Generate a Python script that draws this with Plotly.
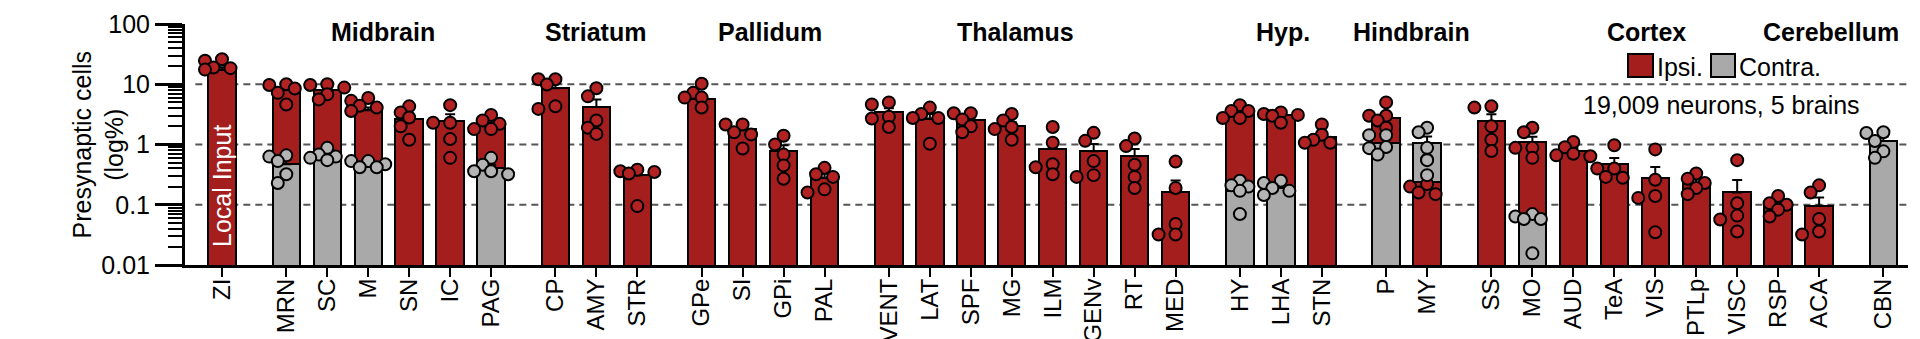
import numpy as np
import plotly.graph_objects as go

# ---------------- data ----------------
regions = ["ZI", "MRN", "SC", "M", "SN", "IC", "PAG", "CP", "AMY", "STR",
           "GPe", "SI", "GPi", "PAL", "VENT", "LAT", "SPF", "MG", "ILM", "GENv",
           "RT", "MED", "HY", "LHA", "STN", "P", "MY", "SS", "MO", "AUD", "TeA",
           "VIS", "PTLp", "VISC", "RSP", "ACA", "CBN"]
region_group = [0, 1, 1, 1, 1, 1, 1, 2, 2, 2, 3, 3, 3, 3, 4, 4, 4, 4, 4, 4,
                4, 4, 5, 5, 5, 6, 6, 7, 7, 7, 7, 7, 7, 7, 7, 7, 8]
group_names = ["", "Midbrain", "Striatum", "Pallidum", "Thalamus", "Hyp.",
               "Hindbrain", "Cortex", "Cerebellum"]

ipsi_mean = [17.5, 8.2, 7.9, 3.7, 2.7, 2.5, 2.1, 8.6, 4.2, 0.31,
             5.6, 1.78, 0.77, 0.28, 3.4, 2.7, 2.6, 2.0, 0.85, 0.77,
             0.64, 0.16, 3.2, 3.1, 1.33, 2.8, 0.24, 2.45, 1.1, 0.79, 0.47,
             0.28, 0.23, 0.16, 0.106, 0.096, None]
contra_mean = [None, 0.47, 0.6, 0.43, None, None, 0.41, None, None, None,
               None, None, None, None, None, None, None, None, None, None,
               None, None, 0.167, 0.19, None, 1.05, 1.05, None, 0.058, None, None,
               None, None, None, None, None, 1.14]

ipsi_dots = [
    [26, 24.5, 19, 18.5, 17.5],        # ZI
    [10, 9.7, 8.5, 7.2, 4.6],          # MRN
    [10, 9.7, 8.8, 6.8, 5.6],          # SC
    [5.9, 5.3, 4.4, 4.1, 3.6],         # M
    [4.3, 3.4, 2.8, 2.0, 1.2],         # SN
    [4.5, 2.3, 2.3, 1.23, 0.6],        # IC
    [3.1, 2.5, 2.2, 1.8, 1.8],         # PAG
    [12.1, 12.1, 9.9, 4.3, 3.9],       # CP
    [8.6, 6.3, 2.5, 1.9, 1.5],         # AMY
    [0.38, 0.36, 0.35, 0.33, 0.095],   # STR
    [10.2, 7.2, 6.0, 6.0, 4.1],        # GPe
    [2.15, 2.15, 1.6, 1.47, 0.86],     # SI
    [1.4, 1.0, 0.68, 0.45, 0.27],      # GPi
    [0.41, 0.32, 0.29, 0.18, 0.16],    # PAL
    [5.0, 4.6, 2.9, 2.7, 1.95],        # VENT
    [4.1, 3.2, 2.75, 2.75, 1.03],      # LAT
    [3.3, 3.3, 2.6, 2.0, 1.6],         # SPF
    [3.2, 2.5, 1.95, 1.8, 1.2],        # MG
    [1.95, 1.07, 0.47, 0.42, 0.32],    # ILM
    [1.56, 1.15, 0.53, 0.31, 0.29],    # GENv
    [1.26, 0.94, 0.46, 0.29, 0.19],    # RT
    [0.52, 0.19, 0.048, 0.032, 0.032], # MED
    [4.5, 3.6, 3.6, 2.75, 2.75],       # HY
    [3.4, 3.2, 3.1, 3.0, 2.3],         # LHA
    [2.15, 1.45, 1.2, 1.07, 1.07],     # STN
    [5.0, 3.0, 3.0, 2.5, 1.9],         # P
    [0.56, 0.22, 0.2, 0.16, 0.15],     # MY
    [4.3, 4.1, 2.0, 1.2, 0.78],        # SS
    [1.9, 1.6, 0.88, 0.88, 0.6],       # MO
    [1.1, 0.9, 0.7, 0.66, 0.64],       # AUD
    [0.97, 0.4, 0.4, 0.29, 0.28],      # TeA
    [0.83, 0.26, 0.14, 0.13, 0.035],   # VIS
    [0.33, 0.27, 0.23, 0.19, 0.15],    # PTLp
    [0.55, 0.106, 0.066, 0.057, 0.036],# VISC
    [0.14, 0.106, 0.1, 0.083, 0.064],  # RSP
    [0.21, 0.16, 0.058, 0.036, 0.032], # ACA
    [],                                # CBN
]
contra_dots = [
    [], [0.66, 0.63, 0.53, 0.32, 0.23], [0.88, 0.68, 0.63, 0.6, 0.55],
    [0.53, 0.53, 0.47, 0.42, 0.42], [], [], [0.6, 0.46, 0.36, 0.36, 0.32],
    [], [], [], [], [], [], [], [], [], [], [], [], [], [], [],
    [0.25, 0.21, 0.2, 0.17, 0.07],     # HY
    [0.25, 0.23, 0.19, 0.17, 0.145],   # LHA
    [],
    [1.43, 1.43, 0.91, 0.87, 0.68],    # P
    [1.9, 1.6, 0.88, 0.55, 0.31],      # MY
    [],
    [0.07, 0.064, 0.058, 0.058, 0.0156],  # MO
    [], [], [], [], [], [], [],
    [1.6, 1.55, 1.14, 0.77, 0.6],      # CBN
]

y_tick_vals = [0.01, 0.1, 1, 10, 100]
y_tick_text = ["0.01", "0.1", "1", "10", "100"]
grid_vals = [10, 1, 0.1]
legend_labels = ["Ipsi.", "Contra."]
note_text = "19,009 neurons, 5 brains"

# ---------------- style / layout ----------------
RED_BAR = "#A51E1E"
RED_DOT = "#B22222"
GRAY_BAR = "#A9A9A9"
GRAY_DOT = "#B4B4B4"
FONT = "Liberation Sans, Arial, sans-serif"
GROUP_GAP = 0.57
BAR_W = 0.67
ML, MR, MT, MB = 185, 12, 24, 74
FIG_W, FIG_H = 1920, 339
PW, PH = FIG_W - ML - MR, FIG_H - MT - MB
X_RANGE = [-0.903, 41.16]
PX_PER_X = PW / (X_RANGE[1] - X_RANGE[0])
PX_PER_DEC = PH / 4.0


def px_x(px):
    return (px - ML) / PW


def px_y(py):
    return (FIG_H - MB - py) / PH


# category positions with gaps between groups
xpos = []
cur = 0.0
for i, g in enumerate(region_group):
    if i > 0:
        cur += 1.0 + (GROUP_GAP if g != region_group[i - 1] else 0.0)
    xpos.append(cur)


def sem(v):
    v = np.asarray(v, dtype=float)
    return float(np.std(v, ddof=1) / np.sqrt(len(v))) if len(v) > 1 else 0.0


def swarm(vals, step_px=8.5, min_d=9.5):
    placed = []
    order = np.argsort(vals)[::-1]
    res = [0.0] * len(vals)
    for idx in order:
        yp = np.log10(vals[idx]) * PX_PER_DEC
        best, best_score = 0.0, -1
        for c in [0, -1, 1, -2, 2]:
            xo = c * step_px
            dmin = min([np.hypot(xo - px, yp - py) for px, py in placed] or [1e9])
            if dmin >= min_d:
                best = xo
                break
            if dmin > best_score:
                best_score, best = dmin, xo
        placed.append((best, yp))
        res[idx] = best / PX_PER_X
    return res


fig = go.Figure()


def add_bar(vals, errs, color):
    fig.add_trace(go.Bar(
        x=xpos, y=vals, width=BAR_W, showlegend=False,
        marker=dict(color=color, line=dict(color="black", width=2)),
        error_y=dict(type="data", symmetric=False, array=errs,
                     arrayminus=[0] * len(errs), color="black",
                     thickness=2, width=5),
    ))


ipsi_err = [sem(d) if d else 0 for d in ipsi_dots]
contra_err = [sem(d) if d else 0 for d in contra_dots]

# back bars (taller), then front bars (shorter)
ipsi_back, ipsi_front, con_back, con_front = [], [], [], []
for i in range(len(regions)):
    a, b = ipsi_mean[i], contra_mean[i]
    if a is not None and (b is None or a >= b):
        ipsi_back.append(a); ipsi_front.append(None)
    else:
        ipsi_back.append(None); ipsi_front.append(a)
    if b is not None and (a is None or b > a):
        con_back.append(b); con_front.append(None)
    else:
        con_back.append(None); con_front.append(b)

add_bar(ipsi_back, ipsi_err, RED_BAR)
add_bar(con_back, contra_err, GRAY_BAR)
add_bar(con_front, contra_err, GRAY_BAR)
add_bar(ipsi_front, ipsi_err, RED_BAR)


def add_dots(dots, color):
    xs, ys = [], []
    for i, d in enumerate(dots):
        if not d:
            continue
        offs = swarm(d)
        xs += [xpos[i] + o for o in offs]
        ys += list(d)
    fig.add_trace(go.Scatter(
        x=xs, y=ys, mode="markers", showlegend=False,
        marker=dict(size=12, color=color, line=dict(color="black", width=2)),
    ))


add_dots(ipsi_dots, RED_DOT)
add_dots(contra_dots, GRAY_DOT)

# dashed reference lines (data values on the log axis)
shapes = []
for v in grid_vals:
    shapes.append(dict(type="line", xref="paper", yref="y", x0=0.006, x1=1,
                       y0=v, y1=v, layer="below",
                       line=dict(color="#555555", width=2, dash="7px,5px")))

# manual legend
leg_boxes = [(1628, 1653, RED_BAR), (1711, 1735, GRAY_BAR)]
leg_text_x = [1655, 1737]
for (x0, x1, col) in leg_boxes:
    shapes.append(dict(type="rect", xref="paper", yref="paper",
                       x0=px_x(x0), x1=px_x(x1), y0=px_y(77), y1=px_y(54),
                       fillcolor=col, line=dict(color="black", width=2)))

annotations = []
for lab, tx in zip(legend_labels, leg_text_x):
    annotations.append(dict(text=lab, xref="paper", yref="paper",
                            x=px_x(tx), y=px_y(67), xanchor="left", yanchor="middle",
                            showarrow=False, font=dict(size=25, color="black", family=FONT)))

annotations.append(dict(text=note_text, xref="paper", yref="paper",
                        x=px_x(1721.5), y=px_y(105), xanchor="center", yanchor="middle",
                        showarrow=False, font=dict(size=25, color="black", family=FONT)))

group_label_px = [383, 595, 769.5, 1015, 1283, 1411.7, 1646.7, 1830.8]
for name, gx in zip(group_names[1:], group_label_px):
    annotations.append(dict(text="<b>" + name + "</b>", xref="paper", yref="paper",
                            x=px_x(gx), y=px_y(32), xanchor="center", yanchor="middle",
                            showarrow=False, font=dict(size=25, color="black", family=FONT)))

annotations.append(dict(text="Local Input", xref="x", yref="y", x=xpos[0],
                        y=np.log10(0.205), textangle=-90, showarrow=False,
                        xanchor="center", yanchor="middle",
                        font=dict(size=25, color="white", family=FONT)))

annotations.append(dict(text="Presynaptic cells<br>(log%)", xref="paper", yref="paper",
                        x=px_x(98), y=0.5, textangle=-90, showarrow=False,
                        xanchor="center", yanchor="middle",
                        font=dict(size=25, color="black", family=FONT)))

minor_vals = [m * 10.0 ** e for e in range(-2, 2) for m in range(2, 10)]

fig.update_layout(
    width=FIG_W, height=FIG_H,
    margin=dict(l=ML, r=MR, t=MT, b=MB, autoexpand=False),
    paper_bgcolor="white", plot_bgcolor="white",
    barmode="overlay", bargap=0,
    font=dict(family=FONT, size=25, color="black"),
    shapes=shapes, annotations=annotations, showlegend=False,
    xaxis=dict(
        range=X_RANGE, tickmode="array", tickvals=xpos, ticktext=regions,
        tickangle=-90, tickfont=dict(size=24, color="black", family=FONT),
        showline=True, linewidth=3, linecolor="black",
        ticks="outside", ticklen=9, tickwidth=2, tickcolor="black",
        ticklabelstandoff=-8,
        showgrid=False, zeroline=False, automargin=False,
    ),
    yaxis=dict(
        type="log", range=[-2, 2], tickmode="array", tickvals=y_tick_vals,
        ticktext=y_tick_text, tickfont=dict(size=25, color="black", family=FONT),
        showline=True, linewidth=3, linecolor="black",
        ticks="outside", ticklen=27, tickwidth=2.5, tickcolor="black",
        showgrid=False, zeroline=False, automargin=False,
        minor=dict(tickmode="array", tickvals=minor_vals, ticks="outside",
                   ticklen=14, tickwidth=2, tickcolor="black", showgrid=False),
    ),
)

fig.write_html("out.html")
